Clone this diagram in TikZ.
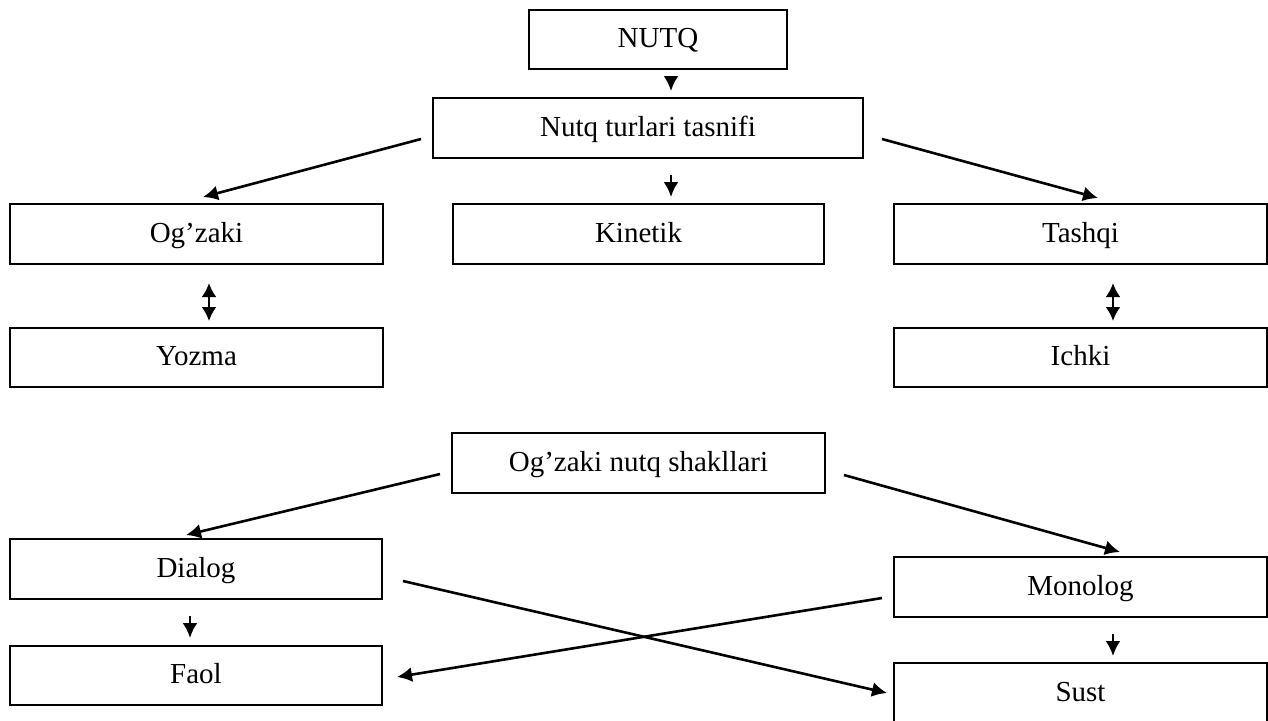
\documentclass[tikz,border=0pt]{standalone}
\usepackage{fontspec}
\setmainfont{Liberation Serif}
\usetikzlibrary{arrows.meta}
\begin{document}
\begin{tikzpicture}[x=0.5pt,y=-0.5pt,
    every node/.append style={font=\fontsize{14.5}{17}\selectfont},
    box/.style={draw,line width=1pt,minimum width=186.5pt,minimum height=30pt,inner sep=0pt,
      text height=11pt,text depth=3pt},
    arr/.style={line width=1.3pt,-{Latex[length=7.5pt,width=7.5pt]}},
    dbl/.style={line width=1.3pt,{Latex[length=7pt,width=7.5pt]}-{Latex[length=7pt,width=7.5pt]}}]
    \useasboundingbox (0,0) rectangle (1268,720);
    \node[box,minimum width=129pt,minimum height=29.5pt] (nutq) at (658,39.5) {NUTQ};
    \node[box,minimum width=215pt] (tasnif) at (648,128) {Nutq turlari tasnifi};
    \node[box] (ogzaki) at (196.5,234) {Og’zaki};
    \node[box,minimum width=185.5pt] (kinetik) at (638.5,234) {Kinetik};
    \node[box] (tashqi) at (1080.5,234) {Tashqi};
    \node[box,minimum height=29.5pt] (yozma) at (196.5,357.5) {Yozma};
    \node[box,minimum height=29.5pt] (ichki) at (1080.5,357.5) {Ichki};
    \node[box] (shakl) at (638.5,463) {Og’zaki nutq shakllari};
    \node[box,minimum width=186pt] (dialog) at (196,569) {Dialog};
    \node[box] (monolog) at (1080.5,587) {Monolog};
    \node[box,minimum width=186pt,minimum height=29.5pt] (faol) at (196,675.5) {Faol};
    \node[box] (sust) at (1080.5,693) {Sust};
    % nutq turlari
    \draw[arr] ([xshift=6.5pt,yshift=-4pt]nutq.south) -- ([xshift=11.5pt,yshift=3pt]tasnif.north);
    \draw[arr] ([xshift=-5.5pt,yshift=-5.5pt]tasnif.west) -- ([xshift=3.25pt,yshift=3pt]ogzaki.north);
    \draw[arr] ([xshift=11.5pt,yshift=-8pt]tasnif.south) -- ([xshift=16.25pt,yshift=3pt]kinetik.north);
    \draw[arr] ([xshift=9pt,yshift=-5.5pt]tasnif.east) -- ([xshift=8.75pt,yshift=2.5pt]tashqi.north);
    \draw[dbl] ([xshift=6.25pt,yshift=-9pt]ogzaki.south) -- ([xshift=6.25pt,yshift=3pt]yozma.north);
    \draw[dbl] ([xshift=16.25pt,yshift=-9pt]tashqi.south) -- ([xshift=16.25pt,yshift=3pt]ichki.north);
    % og'zaki nutq shakllari
    \draw[arr] ([xshift=-5.5pt,yshift=-5.5pt]shakl.west) -- ([xshift=-5pt,yshift=1.5pt]dialog.north);
    \draw[arr] ([xshift=9pt,yshift=-6pt]shakl.east) -- ([xshift=19.75pt,yshift=2pt]monolog.north);
    \draw[arr] ([xshift=-3pt,yshift=-8pt]dialog.south) -- ([xshift=-3pt,yshift=3.5pt]faol.north);
    \draw[arr] ([xshift=16.25pt,yshift=-8pt]monolog.south) -- ([xshift=16.25pt,yshift=3pt]sust.north);
    \draw[arr] ([xshift=10pt,yshift=-6pt]dialog.east) -- ([xshift=-3pt]sust.west);
    \draw[arr] ([xshift=-5.5pt,yshift=-5.5pt]monolog.west) -- ([xshift=7pt,yshift=-0.75pt]faol.east);
\end{tikzpicture}
\end{document}
